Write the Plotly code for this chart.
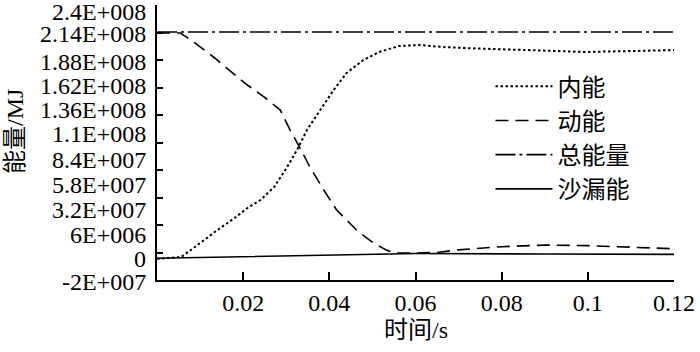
import plotly.graph_objects as go

# ---- data (energies in units of 1E6 MJ) ----
t_total = [0.0, 0.03, 0.06, 0.09, 0.12]
e_total = [214.5, 214.5, 214.5, 214.5, 214.5]

t_internal = [0.0, 0.0033, 0.0056, 0.0088, 0.0134, 0.018, 0.021, 0.024, 0.0272, 0.0302,
              0.0325, 0.0348, 0.0378, 0.041, 0.044, 0.0479, 0.0516, 0.0561, 0.0607, 0.0663,
              0.0715, 0.0876, 0.0991, 0.1106, 0.12]
e_internal = [0.0, 0.8, 1.7, 11.2, 25.4, 38.6, 48.1, 55.6, 67.9, 86.8,
              102.9, 121.8, 140.7, 159.6, 175.7, 188.0, 195.6, 201.2, 202.2, 200.3,
              199.3, 197.4, 195.6, 196.5, 197.4]

t_kinetic = [0.0, 0.0054, 0.0079, 0.0134, 0.0203, 0.0249, 0.0286, 0.0309, 0.0332, 0.0355,
             0.0387, 0.0417, 0.0463, 0.0502, 0.0532, 0.055, 0.06, 0.065, 0.07, 0.08,
             0.09, 0.1, 0.11, 0.12]
e_kinetic = [213.5, 213.5, 206.9, 189.9, 166.3, 153.0, 140.7, 121.8, 104.8, 86.8,
             65.1, 46.2, 27.3, 15.0, 8.4, 5.5, 5.5, 6.0, 8.5, 11.5,
             13.0, 12.5, 11.0, 9.5]

t_hourglass = [0.0, 0.03, 0.06, 0.09, 0.12]
e_hourglass = [0.5, 3.0, 5.0, 4.6, 4.2]

names = ["内能", "动能", "总能量", "沙漏能"]

x_tickvals = [0.02, 0.04, 0.06, 0.08, 0.1, 0.12]
x_ticktext = ["0.02", "0.04", "0.06", "0.08", "0.1", "0.12"]

y_tickvals = [-2e7, 6e6, 3.2e7, 5.8e7, 8.4e7, 1.1e8, 1.36e8, 1.62e8, 1.88e8, 2.14e8, 2.4e8]
y_labels = ["2.4E+008", "2.14E+008", "1.88E+008", "1.62E+008", "1.36E+008", "1.1E+008",
            "8.4E+007", "5.8E+007", "3.2E+007", "6E+006", "0", "-2E+007"]
# vertical pixel centres of the printed labels (layout only)
y_label_px = [12, 34, 62, 86, 110, 134, 160, 185, 210, 235, 259, 282]

SERIF = "Liberation Serif"
SCALE = 1e6


def f(size=24):
    return dict(family=SERIF, size=size, color="black")


fig = go.Figure()
fig.add_trace(go.Scatter(x=t_internal, y=[v * SCALE for v in e_internal], mode="lines",
                         name=names[0], line=dict(color="black", width=2, dash="2.5px,2.5px")))
fig.add_trace(go.Scatter(x=t_kinetic, y=[v * SCALE for v in e_kinetic], mode="lines",
                         name=names[1], line=dict(color="black", width=1.6, dash="13px,7px")))
fig.add_trace(go.Scatter(x=t_total, y=[v * SCALE for v in e_total], mode="lines",
                         name=names[2], line=dict(color="black", width=1.6, dash="20px,4px,3px,4px")))
fig.add_trace(go.Scatter(x=t_hourglass, y=[v * SCALE for v in e_hourglass], mode="lines",
                         name=names[3], line=dict(color="black", width=1.6)))

L, R, T, B = 157, 19, 5, 72
W, H = 700, 352
plot_h = H - T - B

annotations = []
for txt, py in zip(y_labels, y_label_px):
    annotations.append(dict(text=txt, xref="paper", yref="paper", x=0.0, xshift=-9,
                            y=1 - (py - T) / plot_h, xanchor="right", yanchor="middle",
                            showarrow=False, font=f(24)))
annotations.append(dict(text="能量/MJ", xref="paper", yref="paper", x=0.0, xshift=-142,
                        y=1 - (132 - T) / plot_h, xanchor="center", yanchor="middle",
                        textangle=-90, showarrow=False, font=f(24)))
annotations.append(dict(text="时间/s", xref="paper", yref="paper", x=0.5,
                        y=0.0, yshift=-(330 - (H - B)), xanchor="center", yanchor="middle",
                        showarrow=False, font=f(24)))

fig.update_layout(
    width=W, height=H,
    margin=dict(l=L, r=R, t=T, b=B),
    plot_bgcolor="white", paper_bgcolor="white",
    showlegend=True,
    legend=dict(x=0.645, y=0.785, xanchor="left", yanchor="top",
                bgcolor="rgba(0,0,0,0)", borderwidth=0,
                font=f(24), tracegroupgap=0, itemwidth=57),
    annotations=annotations,
    xaxis=dict(range=[0, 0.12], tickvals=x_tickvals, ticktext=x_ticktext,
               showline=True, linecolor="black", linewidth=1.5, mirror=False,
               ticks="inside", ticklen=8, tickwidth=1.5, tickcolor="black",
               showgrid=False, zeroline=False, ticklabeloverflow="allow",
               tickfont=f(24)),
    yaxis=dict(range=[-2e7, 2.4e8], tickvals=y_tickvals, showticklabels=False,
               showline=True, linecolor="black", linewidth=1.5, mirror=False,
               ticks="inside", ticklen=6, tickwidth=1.5, tickcolor="black",
               showgrid=False, zeroline=False),
)

post = """
document.body.style.margin='0';
document.querySelectorAll('svg text, svg tspan').forEach(function(t){
  t.style.setProperty('font-family', "'Liberation Serif', 'Times New Roman', 'Noto Sans CJK SC', serif", 'important');
});
"""

fig.write_html("out.html", config={"displayModeBar": False}, post_script=post)
